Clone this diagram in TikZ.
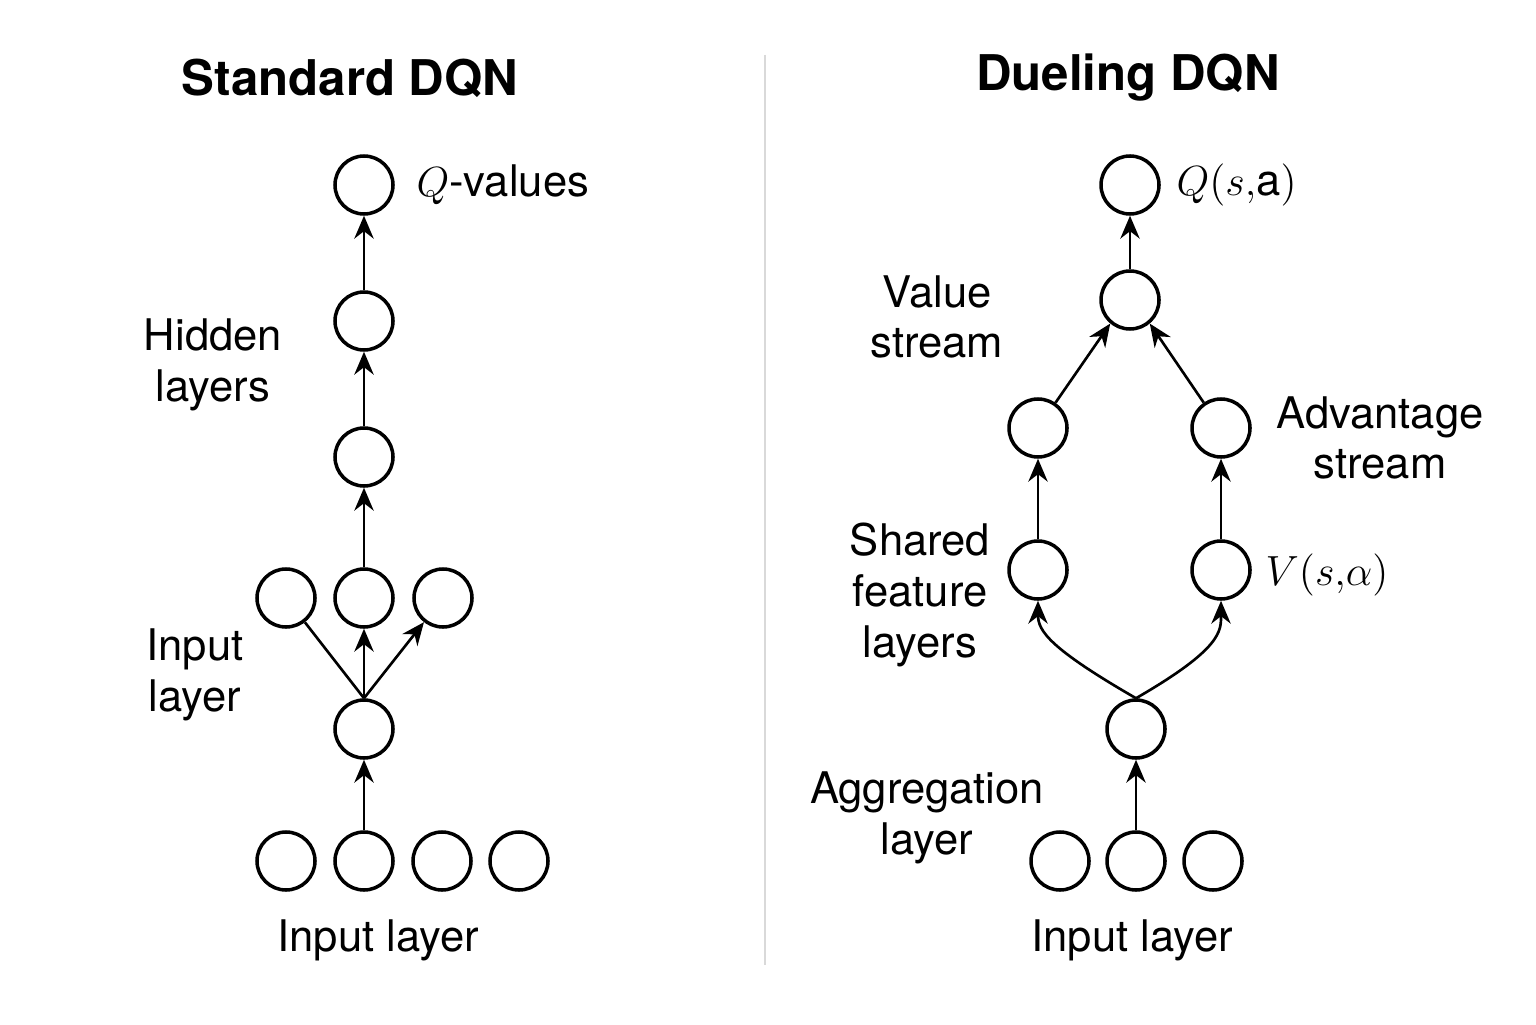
\documentclass[tikz,border=0pt]{standalone}
\usepackage{fontspec}
\setmainfont{TeX Gyre Heros}
\usetikzlibrary{arrows.meta}

\begin{document}
\begin{tikzpicture}[
    neuron/.style={draw, circle, line width=1pt, minimum size=0.58cm, inner sep=0pt},
    arr/.style={-{Stealth[length=6.5pt, width=5.5pt]}, line width=0.75pt},
    link/.style={line width=0.75pt},
    lbl/.style={font=\fontsize{12.4}{14.4}\selectfont, align=center, inner sep=0pt},
    ttl/.style={font=\fontsize{14}{17}\selectfont\bfseries, inner sep=0pt}
]
    \useasboundingbox (0,0) rectangle (15.36,10.24);

    % Titles and divider
    \node[ttl] (titleL) at (3.50,9.46) {Standard DQN};
    \node[ttl] (titleR) at (11.28,9.46) {Dueling DQN};
    \draw[gray!30, line width=0.6pt] (7.65,9.69) -- (7.65,0.59);

    % Standard DQN
    \node[neuron] (sq) at (3.64,8.39) {};
    \node[neuron] (sh2) at (3.64,7.03) {};
    \node[neuron] (sh1) at (3.64,5.67) {};
    \node[neuron] (sa) at (2.86,4.26) {};
    \node[neuron] (sb) at (3.64,4.26) {};
    \node[neuron] (sc) at (4.43,4.26) {};
    \node[neuron] (sm) at (3.64,2.95) {};
    \node[neuron] (si1) at (2.86,1.63) {};
    \node[neuron] (si2) at (3.64,1.63) {};
    \node[neuron] (si3) at (4.42,1.63) {};
    \node[neuron] (si4) at (5.19,1.63) {};

    \draw[arr] (si2) -- (sm);
    \draw[link] (sm.north) -- (sa);
    \draw[arr] (sm.north) -- (sb);
    \draw[arr] (sm.north) -- (sc);
    \draw[arr] (sb) -- (sh1);
    \draw[arr] (sh1) -- (sh2);
    \draw[arr] (sh2) -- (sq);

    \node[lbl, anchor=west] (sqlbl) at (4.16,8.39) {$Q$-values};
    \node[lbl] (shlbl) at (2.13,6.59) {Hidden\\layers};
    \node[lbl] (smlbl) at (1.95,3.49) {Input\\layer};
    \node[lbl] (silbl) at (3.78,0.84) {Input layer};

    % Dueling DQN
    \node[neuron] (dq) at (11.30,8.39) {};
    \node[neuron] (dagg) at (11.30,7.24) {};
    \node[neuron] (dv) at (10.38,5.96) {};
    \node[neuron] (da) at (12.21,5.96) {};
    \node[neuron] (dsl) at (10.38,4.54) {};
    \node[neuron] (dsr) at (12.21,4.54) {};
    \node[neuron] (dm) at (11.36,2.95) {};
    \node[neuron] (di1) at (10.60,1.63) {};
    \node[neuron] (di2) at (11.36,1.63) {};
    \node[neuron] (di3) at (12.13,1.63) {};

    \draw[arr] (di2) -- (dm);
    \draw[arr] (dm.north) to[out=150, in=-90, out distance=1cm, in distance=0.3cm] (dsl.south);
    \draw[arr] (dm.north) to[out=30, in=-90, out distance=1cm, in distance=0.3cm] (dsr.south);
    \draw[arr] (dsl) -- (dv);
    \draw[arr] (dsr) -- (da);
    \draw[arr] (dv) -- (dagg.-130);
    \draw[arr] (da) -- (dagg.-50);
    \draw[arr] (dagg) -- (dq);

    \node[lbl, anchor=west] (dqlbl) at (11.76,8.39) {$Q(s,$a$)$};
    \node[lbl] (dvlbl) at (9.37,7.07) {Value\\stream};
    \node[lbl] (dalbl) at (13.80,5.86) {Advantage\\stream};
    \node[lbl] (dslbl) at (9.20,4.29) {Shared\\feature\\layers};
    \node[lbl, anchor=west] (dsrlbl) at (12.65,4.49) {$V(s{,}\alpha)$};
    \node[lbl] (dmlbl) at (9.27,2.06) {Aggregation\\layer};
    \node[lbl] (dilbl) at (11.32,0.84) {Input layer};
\end{tikzpicture}
\end{document}
